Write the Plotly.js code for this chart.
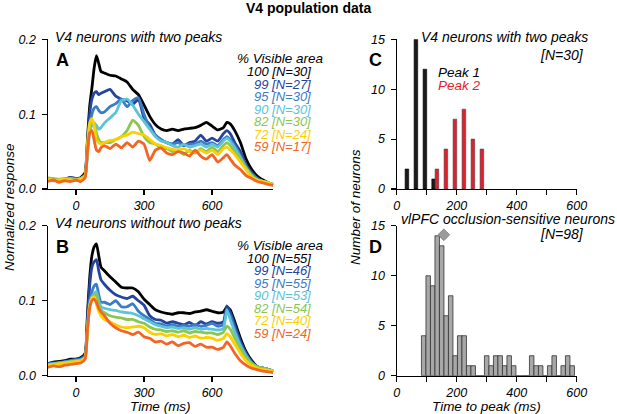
<!DOCTYPE html>
<html><head><meta charset="utf-8">
<script src="https://cdn.plot.ly/plotly-3.0.1.min.js"></script>
<style>html,body{margin:0;padding:0;background:#fff}#plot{width:617px;height:414px}</style>
</head><body><div id="plot"></div>
<script>
// ---------- DATA ----------
const timeMs = [-125,-100,-75,-50,-25,0,20,40,50,60,70,80,90,100,110,125,150,175,200,225,250,275,300,325,350,375,400,425,450,475,500,525,550,575,600,625,650,665,680,700,725,750,775,800,825,850,870];

const visibleLevels = ['100','99','95','90','82','72','59'];
const nTwoPeaks = [30,27,30,30,30,24,17];
const nNoTwoPeaks = [55,46,55,53,54,40,24];

// Panel A: V4 neurons with two peaks
const a100 = [.012,.013,.011,.013,.015,.014,.015,.022,.065,.110,.135,.162,.178,.168,.157,.155,.152,.151,.147,.143,.133,.126,.112,.097,.086,.080,.078,.080,.078,.080,.081,.082,.085,.089,.084,.079,.082,.089,.087,.078,.062,.040,.026,.017,.012,.008,.006];
const a99  = [.012,.012,.011,.013,.015,.014,.014,.020,.060,.100,.120,.128,.130,.126,.128,.130,.133,.124,.120,.118,.113,.120,.095,.086,.072,.066,.062,.060,.066,.058,.062,.064,.072,.064,.068,.064,.074,.078,.074,.062,.050,.032,.022,.014,.010,.008,.006];
const a95  = [.012,.011,.012,.013,.014,.013,.014,.018,.050,.085,.100,.108,.110,.105,.102,.103,.110,.114,.120,.110,.118,.122,.100,.082,.072,.066,.062,.060,.062,.058,.060,.060,.064,.060,.062,.058,.066,.070,.066,.058,.045,.030,.020,.014,.010,.008,.006];
const a90  = [.013,.012,.012,.013,.014,.013,.014,.018,.045,.075,.085,.088,.085,.080,.082,.088,.095,.102,.118,.120,.112,.100,.090,.080,.070,.064,.062,.058,.056,.060,.056,.058,.060,.056,.060,.056,.064,.068,.064,.055,.042,.028,.018,.012,.010,.008,.006];
const a82  = [.015,.014,.013,.014,.013,.012,.014,.018,.050,.080,.090,.088,.075,.066,.062,.062,.062,.066,.070,.078,.092,.085,.070,.062,.060,.055,.054,.050,.052,.046,.052,.048,.054,.050,.056,.050,.058,.062,.058,.050,.040,.028,.018,.012,.010,.008,.006];
const a72  = [.013,.012,.012,.013,.012,.012,.013,.018,.060,.088,.094,.085,.065,.062,.060,.062,.065,.066,.070,.072,.076,.074,.072,.066,.060,.058,.055,.053,.052,.054,.050,.050,.052,.048,.052,.046,.054,.056,.052,.046,.036,.026,.016,.012,.010,.008,.006];
const a59  = [.010,.012,.009,.011,.010,.012,.010,.015,.050,.075,.078,.065,.052,.050,.055,.058,.054,.060,.055,.062,.056,.064,.060,.038,.052,.055,.048,.046,.050,.048,.044,.052,.044,.040,.046,.036,.042,.046,.040,.032,.026,.018,.014,.010,.008,.006,.005];

// Panel B: V4 neurons without two peaks
const b100 = [.016,.018,.019,.020,.022,.022,.024,.030,.080,.130,.160,.172,.176,.160,.145,.140,.132,.125,.118,.117,.117,.112,.102,.095,.088,.085,.083,.082,.084,.084,.083,.085,.086,.088,.086,.084,.085,.092,.088,.072,.050,.032,.020,.012,.010,.008,.006];
const b99  = [.016,.017,.018,.019,.020,.022,.023,.028,.075,.120,.145,.152,.155,.140,.128,.122,.114,.108,.105,.103,.106,.100,.094,.080,.075,.074,.070,.072,.070,.068,.071,.067,.072,.069,.072,.070,.072,.093,.085,.068,.046,.030,.018,.012,.010,.008,.006];
const b95  = [.015,.016,.017,.018,.020,.021,.022,.026,.065,.100,.112,.120,.122,.108,.098,.098,.095,.100,.092,.092,.096,.086,.080,.075,.070,.069,.066,.068,.066,.067,.066,.068,.066,.067,.070,.066,.068,.085,.080,.062,.042,.028,.018,.012,.010,.008,.006];
const b90  = [.015,.016,.017,.018,.019,.020,.021,.025,.062,.095,.105,.110,.112,.100,.092,.090,.088,.087,.085,.084,.083,.080,.076,.072,.068,.066,.064,.065,.063,.064,.062,.064,.062,.063,.062,.061,.063,.088,.075,.058,.040,.026,.016,.012,.010,.008,.006];
const b82  = [.014,.015,.016,.017,.018,.019,.020,.024,.060,.092,.102,.106,.108,.095,.088,.084,.080,.078,.077,.075,.075,.072,.070,.065,.062,.061,.059,.060,.058,.060,.057,.059,.058,.057,.057,.055,.058,.066,.062,.050,.036,.024,.016,.012,.010,.008,.006];
const b72  = [.014,.015,.016,.017,.018,.019,.020,.024,.060,.092,.104,.105,.095,.086,.080,.075,.072,.068,.065,.064,.065,.066,.064,.058,.055,.056,.053,.055,.052,.054,.051,.053,.050,.051,.050,.047,.050,.056,.052,.042,.030,.020,.014,.010,.008,.007,.006];
const b59  = [.011,.013,.012,.014,.015,.016,.017,.022,.060,.090,.100,.102,.098,.090,.085,.080,.070,.064,.060,.058,.055,.058,.052,.050,.045,.046,.042,.045,.040,.043,.044,.039,.042,.038,.038,.035,.038,.045,.040,.030,.020,.014,.010,.008,.006,.005,.004];

// Panel C: time to peak, V4 two-peak neurons
const peak1Bins = [34,64,94,123];
const peak1Counts = [2,15,12,1];
const peak2Bins = [134,164,194,224,254,284];
const peak2Counts = [2,4,7,8,5,4];

// Panel D: vlPFC occlusion-sensitive neurons (15 ms bins)
const pfcBins = [90,105,120,135,150,165,180,195,210,225,240,255,270,285,300,315,330,345,360,375,390,405,420,435,450,465,480,495,510,525,540,555,570,585];
const pfcCounts = [4,10,9,14,13,6,8,2,4,4,1,1,0,0,2,1,2,2,1,2,1,0,0,0,2,1,1,0,1,2,0,1,2,1];
const pfcMedian = [157];
const pfcMedianLevel = [14.1];

// ---------- STYLE ----------
const colors = ['#000000','#24449e','#3b7cc6','#5cc3d9','#8cc652','#fbd000','#f26522'];
const W = 617, H = 414;
const px = X => X / W;
const py = Y => 1 - Y / H;
const FONT = 'Liberation Sans, Arial, Helvetica, sans-serif';

const seriesA = [a100,a99,a95,a90,a82,a72,a59];
const seriesB = [b100,b99,b95,b90,b82,b72,b59];
const traces = [];
seriesA.forEach((s,i) => traces.push({x: timeMs, y: s, xaxis:'x', yaxis:'y', type:'scatter', mode:'lines',
  line:{color: colors[i], width: 2.8, shape:'spline', smoothing:0.5}, hoverinfo:'skip'}));
seriesB.forEach((s,i) => traces.push({x: timeMs, y: s, xaxis:'x2', yaxis:'y2', type:'scatter', mode:'lines',
  line:{color: colors[i], width: 2.8, shape:'spline', smoothing:0.5}, hoverinfo:'skip'}));
traces.push({x: peak1Bins, y: peak1Counts, xaxis:'x3', yaxis:'y3', type:'bar', width:12,
  marker:{color:'#1a1a1a', line:{color:'#000', width:0.6}}, hoverinfo:'skip'});
traces.push({x: peak2Bins, y: peak2Counts, xaxis:'x3', yaxis:'y3', type:'bar', width:12,
  marker:{color:'#e21f2d', line:{color:'#444', width:0.6}}, hoverinfo:'skip'});
traces.push({x: pfcBins, y: pfcCounts, xaxis:'x4', yaxis:'y4', type:'bar', width:15,
  marker:{color:'#a8a8a8', line:{color:'#333', width:0.8}}, hoverinfo:'skip'});
traces.push({x: pfcMedian, y: pfcMedianLevel, xaxis:'x4', yaxis:'y4', type:'scatter', mode:'markers',
  marker:{symbol:'diamond', size:9, color:'#9a9a9a', line:{color:'#777', width:0.8}}, cliponaxis:false, hoverinfo:'skip'});

const tickF = {family: FONT, size: 12.5, style:'italic', color:'#000'};
const baseAx = {showgrid:false, zeroline:false, showline:true, linecolor:'#000', linewidth:1.2,
  ticks:'outside', ticklen:5, tickwidth:1.2, tickcolor:'#000', tickfont: tickF, fixedrange:true};
const xAx = Object.assign({}, baseAx, {ticklabelstandoff: 0});
const yAx = Object.assign({}, baseAx, {ticklabelstandoff: 3});
const domLX = [px(47.7), px(273.3)];
const domRX = [px(396.7), px(576.7)];
const domTopY = [py(189), py(39.3)];
const domBotY = [py(375.7), py(225.8)];
const histTicks = [0,100,200,300,400,500,600];
const histText = ['0','','200','','400','','600'];

const annotations = [];
function txt(X, Y, text, opts) {
  annotations.push(Object.assign({xref:'paper', yref:'paper', x: px(X), y: py(Y), text: text, showarrow:false,
    xanchor:'left', yanchor:'middle', font:{family: FONT, size: 14, style:'italic', color:'#000'}}, opts || {}));
}
const axTitleFont = {family: FONT, size: 13.5, style:'italic', color:'#000'};
txt(308, 8, 'V4 population data', {xanchor:'center', font:{family:FONT, size:14, weight:'bold', color:'#000'}});
txt(53, 37, 'V4 neurons with two peaks');
txt(53, 223.5, 'V4 neurons without two peaks');
txt(419, 37.5, 'V4 neurons with two peaks');
txt(586, 55, '[N=30]', {xanchor:'right'});
txt(399, 219, 'vlPFC occlusion-sensitive neurons');
txt(586, 234, '[N=98]', {xanchor:'right'});
txt(436, 72.5, 'Peak 1', {font:{family:FONT, size:13.5, style:'italic', color:'#000'}});
txt(436, 85, 'Peak 2', {font:{family:FONT, size:13.5, style:'italic', color:'#e21f2d'}});
const boldLetter = {family: FONT, size: 18, weight:'bold', color:'#000'};
txt(53.5, 60.5, 'A', {font: boldLetter});
txt(53.5, 247, 'B', {font: boldLetter});
txt(367, 60.5, 'C', {font: boldLetter});
txt(367, 246.5, 'D', {font: boldLetter});
txt(9, 207, 'Normalized response', {xanchor:'center', textangle:-90, font: axTitleFont});
txt(355, 207, 'Number of neurons', {xanchor:'center', textangle:-90, font: axTitleFont});
txt(160, 406, 'Time (ms)', {xanchor:'center', font: axTitleFont});
txt(487, 406, 'Time to peak (ms)', {xanchor:'center', font: axTitleFont});
// legends
[[0, nTwoPeaks],[186.7, nNoTwoPeaks]].forEach(([off, ns]) => {
  txt(326, 59 + off, '% Visible area', {xanchor:'right', font:{family:FONT, size:13.5, style:'italic', color:'#000'}});
  visibleLevels.forEach((lv, i) => {
    txt(313, 71.5 + off + 12.5 * i, lv + ' [N=' + ns[i] + ']', {xanchor:'right',
      font:{family:FONT, size:13, style:'italic', color: colors[i]}});
  });
});

const layout = {
  width: W, height: H, margin:{l:0, r:0, t:0, b:0}, showlegend:false,
  paper_bgcolor:'#fff', plot_bgcolor:'rgba(0,0,0,0)', barmode:'overlay',
  xaxis: Object.assign({}, xAx, {domain: domLX, range:[-125, 870], tickvals:[0,300,600], anchor:'y'}),
  yaxis: Object.assign({}, yAx, {domain: domTopY, range:[0, 0.2], tickvals:[0,0.1,0.2], ticktext:['0.0','0.1','0.2'], anchor:'x'}),
  xaxis2: Object.assign({}, xAx, {domain: domLX, range:[-125, 870], tickvals:[0,300,600], anchor:'y2'}),
  yaxis2: Object.assign({}, yAx, {domain: domBotY, range:[0, 0.2], tickvals:[0,0.1,0.2], ticktext:['0.0','0.1','0.2'], anchor:'x2'}),
  xaxis3: Object.assign({}, xAx, {domain: domRX, range:[0, 600], tickvals: histTicks, ticktext: histText, anchor:'y3'}),
  yaxis3: Object.assign({}, yAx, {domain: domTopY, range:[0, 15], tickvals:[0,5,10,15], anchor:'x3'}),
  xaxis4: Object.assign({}, xAx, {domain: domRX, range:[0, 600], tickvals: histTicks, ticktext: histText, anchor:'y4'}),
  yaxis4: Object.assign({}, yAx, {domain: domBotY, range:[0, 15], tickvals:[0,5,10,15], anchor:'x4'}),
  annotations: annotations
};
Plotly.newPlot('plot', traces, layout, {staticPlot:true, displayModeBar:false});
</script></body></html>
